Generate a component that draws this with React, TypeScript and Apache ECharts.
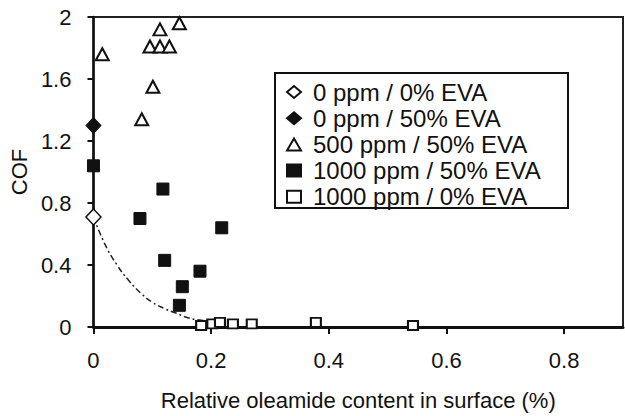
import React, { useEffect, useRef } from "react";
import * as echarts from "echarts";

const seriesNames = [
  "0 ppm / 0% EVA",
  "0 ppm / 50% EVA",
  "500 ppm / 50% EVA",
  "1000 ppm / 50% EVA",
  "1000 ppm / 0% EVA",
];

const openDiamond: number[][] = [[0, 0.71]];
const filledDiamond: number[][] = [[0, 1.3]];
const triangles: number[][] = [
  [0.146, 1.96],
  [0.113, 1.92],
  [0.096, 1.81],
  [0.113, 1.81],
  [0.129, 1.81],
  [0.101, 1.55],
  [0.082, 1.34],
  [0.015, 1.76],
];
const filledSquares: number[][] = [
  [0, 1.04],
  [0.118, 0.89],
  [0.079, 0.7],
  [0.218, 0.64],
  [0.121, 0.43],
  [0.181, 0.36],
  [0.151, 0.26],
  [0.146, 0.14],
];
const openSquares: number[][] = [
  [0.183, 0.01],
  [0.202, 0.02],
  [0.215, 0.03],
  [0.237, 0.02],
  [0.269, 0.02],
  [0.378, 0.03],
  [0.543, 0.01],
];
// trend curve
const trendX = [0, 0.02, 0.04, 0.06, 0.08, 0.1, 0.12, 0.14, 0.16, 0.18, 0.2];
const trendY = [0.71, 0.53, 0.4, 0.3, 0.22, 0.16, 0.12, 0.09, 0.06, 0.045, 0.035];

const xTicks = [0, 0.2, 0.4, 0.6, 0.8];
const yTicks = [0, 0.4, 0.8, 1.2, 1.6, 2];

const FONT = "Liberation Sans";

export default function App() {
  const ref = useRef<HTMLDivElement>(null);
  useEffect(() => {
    document.body.style.margin = "0";
    const chart = echarts.init(ref.current!, null, { renderer: "svg" });
    const fmt = (v: number) => String(Math.round(v * 10) / 10);
    chart.setOption({
      animation: false,
      backgroundColor: "#fff",
      textStyle: { fontFamily: FONT },
      grid: {
        left: 93,
        top: 17,
        right: 2,
        bottom: 88,
        show: true,
        borderColor: "#222",
        borderWidth: 2,
      },
      legend: {
        data: seriesNames,
        orient: "vertical",
        left: 286,
        top: 80,
        itemWidth: 14,
        itemHeight: 12,
        itemGap: 2.2,
        padding: 0,
        textStyle: {
          fontSize: 24,
          color: "#111",
          fontFamily: FONT,
          lineHeight: 20,
          padding: [0, 0, 0, 7],
        },
        selectedMode: false,
      },
      graphic: [
        {
          type: "rect",
          shape: { x: 275, y: 73, width: 293, height: 135 },
          style: { fill: "none", stroke: "#111", lineWidth: 2 },
          z: 100,
        },
      ],
      xAxis: {
        type: "value",
        min: 0,
        max: 0.9,
        interval: 0.2,
        name: "Relative oleamide content in surface (%)",
        nameLocation: "middle",
        nameGap: 62,
        nameTextStyle: { fontSize: 22, color: "#111", fontFamily: FONT },
        splitLine: { show: false },
        axisLine: { onZero: false, lineStyle: { color: "#111", width: 3 } },
        axisTick: {
          show: true,
          inside: false,
          length: 7,
          customValues: xTicks,
          lineStyle: { color: "#111", width: 2 },
        },
        axisLabel: {
          customValues: xTicks,
          formatter: fmt,
          fontSize: 22,
          color: "#111",
          margin: 22,
          fontFamily: FONT,
        },
      },
      yAxis: {
        type: "value",
        min: 0,
        max: 2,
        interval: 0.4,
        name: "COF",
        nameLocation: "middle",
        nameGap: 60,
        nameTextStyle: { fontSize: 22, color: "#111", fontFamily: FONT },
        splitLine: { show: false },
        axisLine: { onZero: false, lineStyle: { color: "#111", width: 2.5 } },
        axisTick: {
          show: true,
          inside: false,
          length: 6,
          customValues: yTicks,
          lineStyle: { color: "#111", width: 2 },
        },
        axisLabel: {
          customValues: yTicks,
          formatter: fmt,
          fontSize: 22,
          color: "#111",
          margin: 22,
          fontFamily: FONT,
        },
      },
      series: [
        {
          name: "trend",
          type: "line",
          data: trendX.map((x, i) => [x, trendY[i]]),
          showSymbol: false,
          symbol: "none",
          smooth: true,
          lineStyle: { color: "#222", width: 1.5, type: [6, 3, 2, 3] },
          z: 1,
        },
        {
          name: seriesNames[0],
          type: "scatter",
          data: openDiamond,
          symbol: "diamond",
          symbolSize: [15, 16],
          itemStyle: { color: "#fff", borderColor: "#111", borderWidth: 1.5, opacity: 1 },
          z: 5,
        },
        {
          name: seriesNames[1],
          type: "scatter",
          data: filledDiamond,
          symbol: "diamond",
          symbolSize: [15, 16],
          itemStyle: { color: "#111", borderColor: "#111", borderWidth: 1, opacity: 1 },
          z: 5,
        },
        {
          name: seriesNames[2],
          type: "scatter",
          data: triangles,
          symbol: "triangle",
          symbolSize: [13, 12],
          itemStyle: { color: "#fff", borderColor: "#111", borderWidth: 2, opacity: 1 },
          z: 5,
        },
        {
          name: seriesNames[3],
          type: "scatter",
          data: filledSquares,
          symbol: "rect",
          symbolSize: [12, 12],
          itemStyle: { color: "#111", borderColor: "#111", borderWidth: 1, opacity: 1 },
          z: 5,
        },
        {
          name: seriesNames[4],
          type: "scatter",
          data: openSquares,
          symbol: "rect",
          symbolSize: [10, 9],
          itemStyle: { color: "#fff", borderColor: "#111", borderWidth: 2, opacity: 1 },
          z: 6,
        },
      ],
    });
    return () => chart.dispose();
  }, []);
  return <div ref={ref} style={{ width: 625, height: 416 }} />;
}
